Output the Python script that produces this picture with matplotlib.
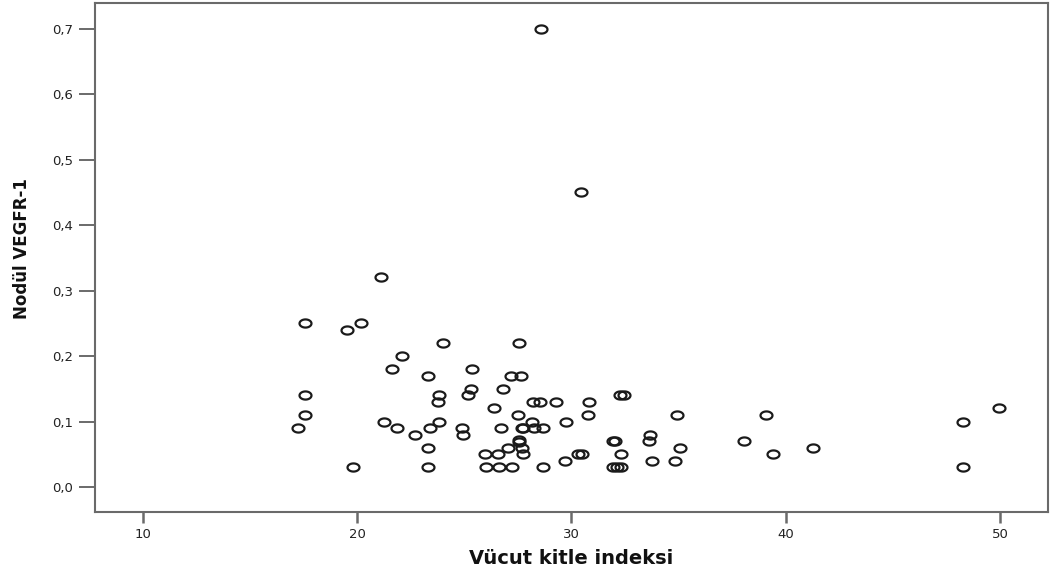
# -*- coding: utf-8 -*-
import numpy as np
import matplotlib
matplotlib.use('Agg')
import matplotlib.pyplot as plt
from matplotlib.path import Path
from matplotlib.ticker import FuncFormatter

# ── Data ────────────────────────────────────────────────────────────────────

bmi = [
    28.6, 30.45, 21.1, 17.57, 19.52, 20.19, 24.01, 27.55, 22.1, 21.63,
    25.37, 23.3, 27.17, 27.64, 26.83, 25.32, 17.57, 23.84, 25.19, 32.27,
    32.45, 23.77, 28.23, 28.54, 29.29, 30.84, 26.38, 49.97, 17.57, 27.53,
    30.78, 34.93, 39.09, 21.27, 23.8, 28.15, 29.75, 48.26, 17.26, 21.87,
    23.42, 24.88, 26.7, 27.7, 27.75, 28.26, 28.69, 22.7, 24.96, 33.67,
    27.56, 27.56, 31.96, 32.05, 33.6, 38.07, 23.31, 27.06, 27.69, 35.07,
    41.28, 25.97, 26.59, 27.76, 30.33, 30.49, 32.3, 39.4, 29.7, 33.78,
    34.84, 19.81, 23.31, 26.0, 26.6, 27.22, 28.69, 31.96, 32.15, 32.3,
    48.26,
]

vegfr1 = [
    0.70, 0.45, 0.32, 0.25, 0.24, 0.25, 0.22, 0.22, 0.20, 0.18,
    0.18, 0.17, 0.17, 0.17, 0.15, 0.15, 0.14, 0.14, 0.14, 0.14,
    0.14, 0.13, 0.13, 0.13, 0.13, 0.13, 0.12, 0.12, 0.11, 0.11,
    0.11, 0.11, 0.11, 0.10, 0.10, 0.10, 0.10, 0.10, 0.09, 0.09,
    0.09, 0.09, 0.09, 0.09, 0.09, 0.09, 0.09, 0.08, 0.08, 0.08,
    0.072, 0.069, 0.07, 0.07, 0.07, 0.07, 0.06, 0.06, 0.06, 0.06,
    0.06, 0.05, 0.05, 0.05, 0.05, 0.05, 0.05, 0.05, 0.04, 0.04,
    0.04, 0.03, 0.03, 0.03, 0.03, 0.03, 0.03, 0.03, 0.03, 0.03,
    0.03,
]

x_ticks = [10, 20, 30, 40, 50]
y_ticks = [0.0, 0.1, 0.2, 0.3, 0.4, 0.5, 0.6, 0.7]

x_label = 'Vücut kitle indeksi'
y_label = 'Nodül VEGFR-1'

# ── Flat ring marker (the source picture is stretched sideways) ─────────────

theta = np.linspace(0, 2 * np.pi, 60)
ring = Path(np.column_stack([np.cos(theta), 0.68 * np.sin(theta)]), closed=True)

# ── Plot ────────────────────────────────────────────────────────────────────

fig = plt.figure(figsize=(10.52, 5.81), dpi=100)
ax = fig.add_axes([0.0903, 0.1196, 0.9059, 0.8752])

ax.plot(
    bmi, vegfr1,
    linestyle='none',
    marker=ring,
    markersize=8.6,
    markerfacecolor='none',
    markeredgecolor='#1a1a1a',
    markeredgewidth=1.6,
)

ax.set_xlim(7.77, 52.24)
ax.set_ylim(-0.0374, 0.739)
ax.set_xticks(x_ticks)
ax.set_yticks(y_ticks)
ax.yaxis.set_major_formatter(FuncFormatter(lambda v, _: f'{v:.1f}'.replace('.', ',')))

spine_col = '#6a6a6a'
for s in ax.spines.values():
    s.set_color(spine_col)
    s.set_linewidth(1.5)

ax.tick_params(axis='y', length=11.5, width=1.4, color=spine_col,
               pad=4, labelsize=9.5, labelcolor='#222222')
ax.tick_params(axis='x', length=7.9, width=1.8, color=spine_col,
               pad=4, labelsize=9.5, labelcolor='#222222')

for lab in ax.get_xticklabels() + ax.get_yticklabels():
    lab.set_family('DejaVu Sans')

# ── Axis titles ─────────────────────────────────────────────────────────────

fig.text(571.5 / 1052, 1 - 559 / 581, x_label,
         ha='center', va='center', fontsize=14, fontweight='bold',
         family='DejaVu Sans', color='#111111')
fig.text(22 / 1052, 1 - 249 / 581, y_label,
         ha='center', va='center', rotation=90, fontsize=12,
         fontweight='bold', family='DejaVu Sans', color='#111111')

fig.savefig('out.png', dpi=100)
